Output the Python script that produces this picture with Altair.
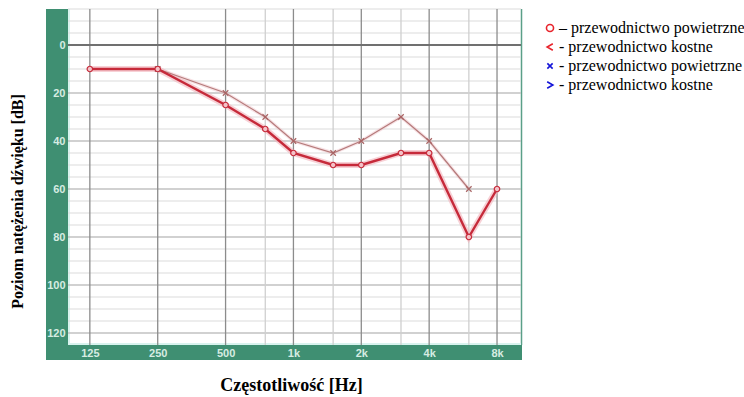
import altair as alt
import pandas as pd

# ---------------- data ----------------
air_freq = [125, 250, 500, 750, 1000, 1500, 2000, 3000, 4000, 6000, 8000]
air_db = [10, 10, 25, 35, 45, 50, 50, 45, 45, 80, 60]

bone_freq = [250, 500, 750, 1000, 1500, 2000, 3000, 4000, 6000]
bone_db = [10, 20, 30, 40, 45, 40, 30, 40, 60]

octave_ticks = [125, 250, 500, 1000, 2000, 4000, 8000]
octave_labels = ["125", "250", "500", "1k", "2k", "4k", "8k"]
half_ticks = [750, 1500, 3000, 6000]

db_labels = [0, 20, 40, 60, 80, 100, 120]
db_major_grid = [20, 40, 60, 80, 100, 120]
db_minor_grid = [-15, -10, -5, 5, 10, 15, 25, 30, 35, 45, 50, 55, 65, 70, 75,
                 85, 90, 95, 105, 110, 115]
db_zero = [0]

legend_keys = ["a", "b", "c", "d"]
legend_texts = ["\u2013 przewodnictwo powietrzne",
                "- przewodnictwo kostne",
                "- przewodnictwo powietrzne",
                "- przewodnictwo kostne"]
legend_colors = ["#e8242c", "#e8242c", "#1414d8", "#1414d8"]
legend_shapes = ["circle",
                 "M0.8,-0.9L-0.8,0L0.8,0.9",
                 "M-0.75,-0.75L0.75,0.75M0.75,-0.75L-0.75,0.75",
                 "M-0.8,-0.9L0.8,0L-0.8,0.9"]

x_title = "Częstotliwość [Hz]"
y_title = "Poziom natężenia dźwięku [dB]"

# ---------------- styling ----------------
W, H = 453, 336
GREEN = "#3f8f72"
LABEL_COLOR = "#d6ece2"

air_df = pd.DataFrame({"freq": air_freq, "db": air_db})
bone_df = pd.DataFrame({"freq": bone_freq, "db": bone_db})

xscale = alt.Scale(type="log", domain=[100, 10220], nice=False)
yscale = alt.Scale(domain=[-15, 125], reverse=True, nice=False, zero=False)

lab_map = "{" + ",".join(f"'{v}':'{l}'" for v, l in zip(octave_ticks, octave_labels)) + "}"

xaxis = alt.Axis(values=octave_ticks, labelExpr=f"{lab_map}[datum.value]",
                 grid=False, ticks=False, domain=False,
                 labelColor=LABEL_COLOR, labelFont="Liberation Sans",
                 labelFontWeight="bold", labelFontSize=11, labelPadding=2,
                 labelBaseline="top", zindex=2,
                 title=x_title, titleFont="Liberation Serif", titleFontSize=18,
                 titleFontWeight="bold", titleColor="black",
                 titleX=223, titleY=45, titleBaseline="alphabetic",
                 titleAlign="center")

yaxis = alt.Axis(values=db_labels, grid=False, ticks=False, domain=False,
                 labelColor=LABEL_COLOR, labelFont="Liberation Sans",
                 labelFontWeight="bold", labelFontSize=11, labelPadding=3,
                 zindex=2,
                 title=y_title, titleFont="Liberation Serif", titleFontSize=16,
                 titleFontWeight="bold", titleColor="black",
                 titleX=-51, titleY=192, titleAngle=-90,
                 titleBaseline="middle", titleAlign="center")

one = alt.Data(values=[{}])

# green frame strips
left_strip = alt.Chart(one).mark_rect(color=GREEN).encode(
    x=alt.value(-22), x2=alt.value(0), y=alt.value(0), y2=alt.value(351))
bottom_strip = alt.Chart(one).mark_rect(color=GREEN).encode(
    x=alt.value(0), x2=alt.value(454), y=alt.value(H), y2=alt.value(351))
right_edge = alt.Chart(one).mark_rule(color="#5a9f88", strokeWidth=1.5).encode(
    x=alt.value(453.5), y=alt.value(0), y2=alt.value(H))
cyan_left = alt.Chart(one).mark_rule(color="#d8f3ee", strokeWidth=2).encode(
    x=alt.value(1), y=alt.value(0), y2=alt.value(H))
cyan_bottom = alt.Chart(one).mark_rule(color="#d8f3ee", strokeWidth=2).encode(
    x=alt.value(0), x2=alt.value(453), y=alt.value(H - 1))

# grid lines
def hgrid(vals, color, width):
    return alt.Chart(pd.DataFrame({"db": vals})).mark_rule(
        color=color, strokeWidth=width).encode(
        y=alt.Y("db:Q", scale=yscale, axis=yaxis))

def vgrid(vals, color, width):
    return alt.Chart(pd.DataFrame({"freq": vals})).mark_rule(
        color=color, strokeWidth=width).encode(
        x=alt.X("freq:Q", scale=xscale, axis=xaxis))

g_minor = hgrid(db_minor_grid, "#dcdcdc", 1.2)
g_major = hgrid(db_major_grid, "#c2c2c2", 1.3)
g_zero = hgrid(db_zero, "#707070", 2)
g_half = vgrid(half_ticks, "#cfcfcf", 1.3)
g_oct = vgrid(octave_ticks, "#8c8c8c", 1.3)

# data series
enc = dict(x=alt.X("freq:Q", scale=xscale, axis=xaxis),
           y=alt.Y("db:Q", scale=yscale, axis=yaxis))

air_halo = alt.Chart(air_df).mark_line(color="#f2b3bb", strokeWidth=6,
                                       opacity=0.6).encode(**enc)
air_line = alt.Chart(air_df).mark_line(color="#c62a3a", strokeWidth=2.4).encode(**enc)
air_pts = alt.Chart(air_df).mark_point(shape="circle", size=30, filled=True,
                                       fill="#f4c2c8", stroke="#c62a3a",
                                       strokeWidth=1.2, opacity=1).encode(**enc)

bone_halo = alt.Chart(bone_df).mark_line(color="#f0c6cb", strokeWidth=3.5,
                                         opacity=0.5).encode(**enc)
bone_line = alt.Chart(bone_df).mark_line(color="#b57a7a", strokeWidth=1.2).encode(**enc)
bone_pts = alt.Chart(bone_df).mark_point(
    shape="M-1,-1L1,1M1,-1L-1,1", size=30, color="#a86464",
    strokeWidth=1.2, opacity=1).encode(**enc)

# legend (dummy invisible points)
leg_df = pd.DataFrame({"key": legend_keys})
lab_expr = "[" + ",".join("'" + t + "'" for t in legend_texts) + "][indexof(" + \
    "[" + ",".join("'" + k + "'" for k in legend_keys) + "], datum.value)]"
legend_layer = alt.Chart(leg_df).mark_point(opacity=0, filled=False, size=50,
                                            strokeWidth=1.6).encode(
    x=alt.value(0), y=alt.value(0),
    color=alt.Color("key:N",
                    scale=alt.Scale(domain=legend_keys, range=legend_colors),
                    legend=alt.Legend(orient="none", legendX=474, legendY=11,
                                      title=None, labelExpr=lab_expr,
                                      labelFont="Liberation Serif",
                                      labelFontSize=16, labelColor="black",
                                      labelLimit=400,
                                      labelOffset=1, rowPadding=3,
                                      symbolOpacity=1, symbolStrokeWidth=1.6,
                                      symbolSize=50, padding=0,
                                      symbolFillColor="transparent")),
    shape=alt.Shape("key:N",
                    scale=alt.Scale(domain=legend_keys, range=legend_shapes)),
)

chart = alt.layer(
    left_strip, bottom_strip, right_edge, cyan_left, cyan_bottom,
    g_minor, g_major, g_half, g_oct, g_zero,
    air_halo, bone_halo, bone_line, air_line, bone_pts, air_pts,
    legend_layer,
).properties(
    width=W, height=H,
    autosize=alt.AutoSizeParams(type="none"),
    padding={"left": 68, "top": 9, "right": 744 - 68 - W, "bottom": 397 - 9 - H},
    background="white",
).configure_view(stroke=None)

chart.save("out.html", embed_options={"renderer": "svg", "actions": False})
